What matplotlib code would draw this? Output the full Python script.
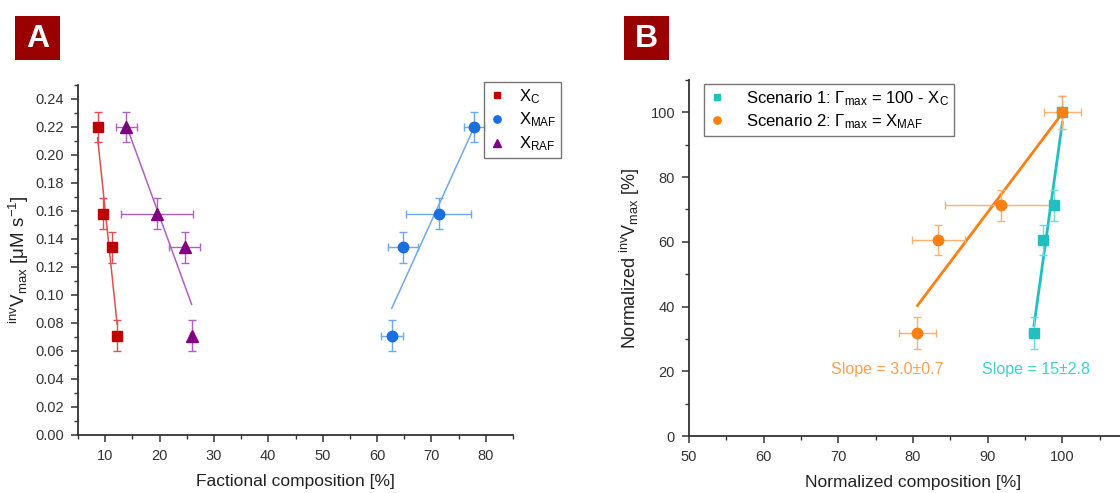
import numpy as np
import matplotlib.pyplot as plt
from matplotlib.ticker import MultipleLocator

plt.rcParams['font.family'] = ['Liberation Sans', 'DejaVu Sans']
plt.rcParams['mathtext.fontset'] = 'custom'
plt.rcParams['mathtext.rm'] = 'Liberation Sans'
plt.rcParams['mathtext.it'] = 'Liberation Sans:italic'
plt.rcParams['mathtext.bf'] = 'Liberation Sans:bold'

#%%
# Panel A data: inverse Vmax vs fractional composition
vmax = [0.220, 0.158, 0.134, 0.071]
vmax_err = [0.011, 0.011, 0.011, 0.011]
x_c = [8.6, 9.6, 11.2, 12.2]
x_c_err = [0.4, 0.4, 0.4, 0.4]
x_maf = [77.9, 71.3, 64.8, 62.7]
x_maf_err = [2.0, 5.9, 2.8, 2.0]
x_raf = [13.9, 19.5, 24.6, 25.9]
x_raf_err = [2.0, 6.6, 2.9, 0.3]

# Panel B data: normalized values
norm_v = [100.0, 71.3, 60.5, 31.8]
norm_v_err = [5.0, 4.8, 4.7, 5.0]
scen1_x = [100.0, 98.9, 97.4, 96.2]
scen1_xerr = [0.3, 0.3, 0.3, 0.6]
scen2_x = [100.0, 91.8, 83.4, 80.6]
scen2_xerr = [2.5, 7.5, 3.6, 2.5]

#%%
def fit_line(ax, x, y, color, lw):
    x = np.array(x)
    p = np.polyfit(x, y, 1)
    xs = np.array([x.min(), x.max()])
    ax.plot(xs, np.polyval(p, xs), color=color, lw=lw, zorder=2)

def style_axes(ax):
    ax.spines['top'].set_visible(False)
    ax.spines['right'].set_visible(False)
    for s in ('left', 'bottom'):
        ax.spines[s].set_linewidth(1.3)
        ax.spines[s].set_color('#333333')
    ax.tick_params(which='major', direction='out', length=5, width=1.1, labelsize=10.5,
                   colors='#333333', pad=5)
    ax.tick_params(which='minor', direction='out', length=3, width=1.0, colors='#333333')

def panel_box(x0, y0, w, h, letter):
    bx = fig.add_axes([x0 / 1120, 1 - (y0 + h) / 493, w / 1120, h / 493])
    bx.set_facecolor('#990000')
    bx.set_xticks([])
    bx.set_yticks([])
    for s in bx.spines.values():
        s.set_visible(False)
    bx.text(0.5, 0.47, letter, color='white', fontsize=23, fontweight='bold',
            ha='center', va='center', transform=bx.transAxes)

fig = plt.figure(figsize=(11.2, 4.93), dpi=100)

#%%
# Panel A
axA = fig.add_axes([78 / 1120, 58 / 493, 435 / 1120, 350 / 493])
series = [
    (x_c, x_c_err, 's', '#c00000', '#e05050', r'X$_\mathrm{C}$', 7),
    (x_maf, x_maf_err, 'o', '#1a6fe0', '#70a8ee', r'X$_\mathrm{MAF}$', 7.5),
    (x_raf, x_raf_err, '^', '#800080', '#b060c0', r'X$_\mathrm{RAF}$', 8),
]
for xs, xe, mk, col, lcol, lab, ms in series:
    fit_line(axA, xs, vmax, lcol, 1.1)
    axA.errorbar(xs, vmax, xerr=xe, yerr=vmax_err, fmt='none', ecolor=lcol,
                 elinewidth=1.0, capsize=3, capthick=1.0, zorder=3)
    axA.plot(xs, vmax, mk, color=col, ms=ms, ls='none', label=lab, zorder=4)
axA.set_xlim(5, 85)
axA.set_ylim(0, 0.25)
axA.xaxis.set_major_locator(MultipleLocator(10))
axA.xaxis.set_minor_locator(MultipleLocator(5))
axA.yaxis.set_major_locator(MultipleLocator(0.02))
axA.yaxis.set_minor_locator(MultipleLocator(0.01))
axA.yaxis.set_major_formatter(plt.FormatStrFormatter('%.2f'))
style_axes(axA)
axA.set_xlabel('Factional composition [%]', fontsize=12.5, color='#222222', labelpad=8)
axA.set_ylabel(r'$^{\mathrm{inv}}$V$_{\mathrm{max}}$ [μM s$^{-1}$]', fontsize=13.5,
               color='#222222', labelpad=3)
legA = axA.legend(loc='upper left', bbox_to_anchor=(484 / 1120, 1 - 82 / 493),
                  bbox_transform=fig.transFigure, fontsize=12, frameon=True,
                  fancybox=False, edgecolor='#555555', markerscale=0.7, borderaxespad=0,
                  handlelength=1.0, handletextpad=0.8, borderpad=0.3, labelspacing=0.3)
legA.get_frame().set_linewidth(1.0)

#%%
# Panel B
axB = fig.add_axes([689 / 1120, 57 / 493, 448 / 1120, 356 / 493])
fit_line(axB, scen1_x, norm_v, '#20c0c0', 2.0)
fit_line(axB, scen2_x, norm_v, '#ff8010', 2.0)
axB.errorbar(scen1_x, norm_v, xerr=scen1_xerr, yerr=norm_v_err, fmt='none',
             ecolor='#70d8d8', elinewidth=1.0, capsize=3, zorder=3)
axB.errorbar(scen2_x, norm_v, xerr=scen2_xerr, yerr=norm_v_err, fmt='none',
             ecolor='#ffb070', elinewidth=1.0, capsize=3, zorder=3)
axB.plot(scen1_x, norm_v, 's', color='#20c0c0', ms=7, ls='none',
         label=r'Scenario 1: $\Gamma_{\mathrm{max}}$ = 100 - X$_{\mathrm{C}}$', zorder=4)
axB.plot(scen2_x, norm_v, 'o', color='#ff8010', ms=7.5, ls='none',
         label=r'Scenario 2: $\Gamma_{\mathrm{max}}$ = X$_{\mathrm{MAF}}$', zorder=4)
axB.text(69, 20.4, 'Slope = 3.0±0.7', color='#ffa050', fontsize=11.5, va='center')
axB.text(89.3, 20.4, 'Slope = 15±2.8', color='#40d0d0', fontsize=11.5, va='center')
axB.set_xlim(50, 110)
axB.set_ylim(0, 110)
axB.xaxis.set_major_locator(MultipleLocator(10))
axB.xaxis.set_minor_locator(MultipleLocator(5))
axB.yaxis.set_major_locator(MultipleLocator(20))
axB.yaxis.set_minor_locator(MultipleLocator(10))
style_axes(axB)
axB.set_xticks([50, 60, 70, 80, 90, 100])
axB.set_xlabel('Normalized composition [%]', fontsize=12.5, color='#222222', labelpad=8)
axB.set_ylabel(r'Normalized $^{\mathrm{inv}}$V$_{\mathrm{max}}$ [%]', fontsize=13,
               color='#222222', labelpad=6)
legB = axB.legend(loc='upper left', bbox_to_anchor=(704 / 1120, 1 - 84 / 493),
                  bbox_transform=fig.transFigure, fontsize=12, frameon=True,
                  fancybox=False, edgecolor='#555555', markerscale=0.7, borderaxespad=0,
                  handlelength=1.0, handletextpad=1.2, borderpad=0.3, labelspacing=0.25)
legB.get_frame().set_linewidth(1.0)

panel_box(15, 16, 45, 44, 'A')
panel_box(624, 16, 45, 44, 'B')

fig.savefig('out.png', dpi=100)
